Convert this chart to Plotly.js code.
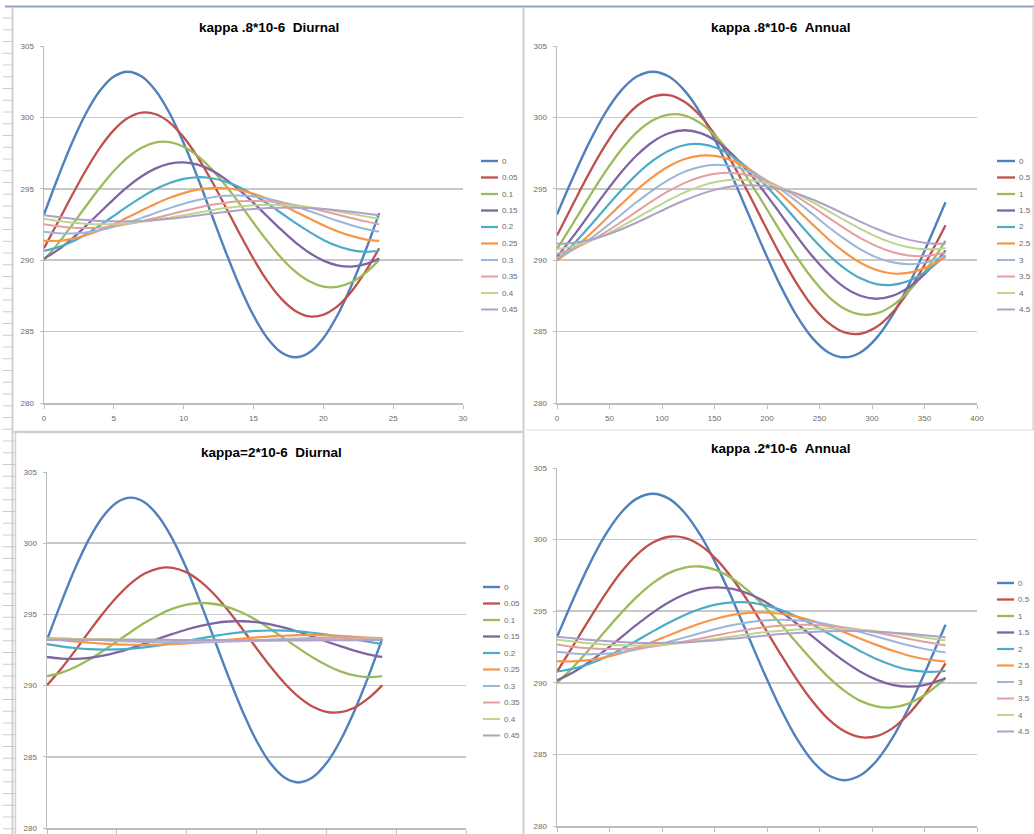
<!DOCTYPE html>
<html>
<head>
<meta charset="utf-8">
<script src="https://cdn.plot.ly/plotly-3.0.1.min.js"></script>
<style>html,body{margin:0;padding:0;background:#fff;}#chart{width:1034px;height:834px;}</style>
</head>
<body>
<div id="chart"></div>
<script>
// ---- data ----
const panelTitles = ['kappa .8*10-6\u00a0\u00a0Diurnal', 'kappa .8*10-6\u00a0\u00a0Annual', 'kappa=2*10-6\u00a0\u00a0Diurnal', 'kappa .2*10-6\u00a0\u00a0Annual'];
const diurnalNames = ['0', '0.05', '0.1', '0.15', '0.2', '0.25', '0.3', '0.35', '0.4', '0.45'];
const annualNames = ['0', '0.5', '1', '1.5', '2', '2.5', '3', '3.5', '4', '4.5'];
const diurnalX = [0, 1, 2, 3, 4, 5, 6, 7, 8, 9, 10, 11, 12, 13, 14, 15, 16, 17, 18, 19, 20, 21, 22, 23, 24];
const annualX = [0, 15.2, 30.4, 45.6, 60.8, 76.0, 91.3, 106.5, 121.7, 136.9, 152.1, 167.3, 182.5, 197.7, 212.9, 228.1, 243.3, 258.5, 273.8, 289.0, 304.2, 319.4, 334.6, 349.8, 365, 370];
const diurnalTicks = [0, 5, 10, 15, 20, 25, 30];
const annualTicks = [0, 50, 100, 150, 200, 250, 300, 350, 400];
const tempTicks = [280, 285, 290, 295, 300, 305];

const diurnalK08 = [
  [293.2, 295.79, 298.2, 300.27, 301.86, 302.86, 303.2, 302.86, 301.86, 300.27, 298.2, 295.79, 293.2, 290.61, 288.2, 286.13, 284.54, 283.54, 283.2, 283.54, 284.54, 286.13, 288.2, 290.61, 293.3],
  [290.84, 292.67, 294.53, 296.30, 297.87, 299.11, 299.95, 300.33, 300.22, 299.64, 298.61, 297.22, 295.56, 293.73, 291.87, 290.10, 288.53, 287.29, 286.45, 286.07, 286.18, 286.76, 287.79, 289.18, 290.84],
  [290.02, 291.16, 292.45, 293.78, 295.07, 296.24, 297.20, 297.88, 298.25, 298.27, 297.95, 297.31, 296.38, 295.24, 293.96, 292.62, 291.33, 290.16, 289.20, 288.52, 288.15, 288.13, 288.45, 289.09, 290.02],
  [290.11, 290.72, 291.50, 292.40, 293.34, 294.28, 295.15, 295.88, 296.43, 296.76, 296.85, 296.69, 296.29, 295.68, 294.90, 294.01, 293.06, 292.12, 291.25, 290.52, 289.97, 289.64, 289.55, 289.72, 290.11],
  [290.66, 290.90, 291.29, 291.82, 292.44, 293.11, 293.79, 294.42, 294.98, 295.41, 295.69, 295.81, 295.74, 295.50, 295.11, 294.58, 293.96, 293.29, 292.61, 291.98, 291.42, 290.99, 290.71, 290.59, 290.66],
  [291.35, 291.36, 291.49, 291.75, 292.10, 292.52, 293.00, 293.48, 293.95, 294.37, 294.70, 294.94, 295.05, 295.04, 294.91, 294.65, 294.30, 293.88, 293.40, 292.92, 292.45, 292.03, 291.70, 291.46, 291.35],
  [292.00, 291.89, 291.87, 291.94, 292.10, 292.34, 292.63, 292.96, 293.31, 293.65, 293.95, 294.21, 294.40, 294.51, 294.53, 294.46, 294.30, 294.07, 293.77, 293.44, 293.10, 292.76, 292.45, 292.19, 292.00],
  [292.52, 292.37, 292.28, 292.25, 292.28, 292.38, 292.53, 292.73, 292.96, 293.20, 293.45, 293.68, 293.88, 294.03, 294.12, 294.15, 294.12, 294.02, 293.87, 293.67, 293.44, 293.20, 292.95, 292.72, 292.52],
  [292.90, 292.75, 292.64, 292.56, 292.52, 292.53, 292.59, 292.69, 292.82, 292.98, 293.15, 293.33, 293.50, 293.65, 293.76, 293.84, 293.88, 293.87, 293.81, 293.71, 293.58, 293.42, 293.25, 293.07, 292.90],
  [293.14, 293.02, 292.91, 292.82, 292.75, 292.72, 292.72, 292.75, 292.81, 292.90, 293.01, 293.13, 293.26, 293.38, 293.49, 293.58, 293.65, 293.68, 293.68, 293.65, 293.59, 293.50, 293.39, 293.27, 293.14]
];
const annualK08 = [
  [293.2, 295.79, 298.2, 300.27, 301.86, 302.86, 303.2, 302.86, 301.86, 300.27, 298.2, 295.79, 293.2, 290.61, 288.2, 286.13, 284.54, 283.54, 283.2, 283.54, 284.54, 286.13, 288.2, 290.61, 293.2, 294.06],
  [291.73, 293.92, 296.06, 298.00, 299.62, 300.80, 301.46, 301.56, 301.08, 300.08, 298.60, 296.76, 294.67, 292.48, 290.34, 288.40, 286.78, 285.61, 284.94, 284.85, 285.32, 286.32, 287.80, 289.65, 291.73, 292.45],
  [290.78, 292.57, 294.40, 296.15, 297.70, 298.95, 299.80, 300.20, 300.13, 299.58, 298.60, 297.25, 295.63, 293.83, 292.00, 290.25, 288.70, 287.45, 286.60, 286.20, 286.27, 286.82, 287.80, 289.15, 290.78, 291.35],
  [290.23, 291.65, 293.17, 294.70, 296.13, 297.35, 298.30, 298.89, 299.10, 298.90, 298.32, 297.39, 296.17, 294.75, 293.23, 291.70, 290.27, 289.05, 288.10, 287.51, 287.30, 287.50, 288.08, 289.01, 290.23, 290.68],
  [290.00, 291.08, 292.31, 293.60, 294.86, 296.01, 296.97, 297.67, 298.07, 298.13, 297.86, 297.27, 296.40, 295.32, 294.09, 292.80, 291.54, 290.39, 289.43, 288.73, 288.33, 288.27, 288.54, 289.13, 290.00, 290.33],
  [290.00, 290.80, 291.75, 292.81, 293.89, 294.93, 295.84, 296.58, 297.09, 297.33, 297.29, 296.97, 296.40, 295.60, 294.65, 293.59, 292.51, 291.47, 290.56, 289.82, 289.31, 289.07, 289.11, 289.43, 290.00, 290.24],
  [290.17, 290.72, 291.43, 292.27, 293.17, 294.07, 294.91, 295.64, 296.20, 296.55, 296.68, 296.57, 296.23, 295.68, 294.97, 294.13, 293.23, 292.33, 291.49, 290.76, 290.20, 289.85, 289.72, 289.83, 290.17, 290.33],
  [290.45, 290.79, 291.30, 291.94, 292.66, 293.42, 294.17, 294.85, 295.42, 295.83, 296.07, 296.11, 295.95, 295.61, 295.10, 294.46, 293.74, 292.98, 292.23, 291.55, 290.99, 290.57, 290.33, 290.29, 290.45, 290.54],
  [290.79, 290.97, 291.31, 291.77, 292.34, 292.96, 293.60, 294.21, 294.75, 295.19, 295.49, 295.63, 295.61, 295.43, 295.09, 294.63, 294.06, 293.44, 292.80, 292.19, 291.65, 291.21, 290.91, 290.77, 290.79, 290.83],
  [291.15, 291.21, 291.41, 291.73, 292.15, 292.64, 293.17, 293.71, 294.20, 294.63, 294.96, 295.18, 295.25, 295.19, 294.99, 294.67, 294.25, 293.76, 293.23, 292.70, 292.20, 291.77, 291.44, 291.23, 291.15, 291.15]
];
const diurnalK2 = [
  [293.2, 295.79, 298.2, 300.27, 301.86, 302.86, 303.2, 302.86, 301.86, 300.27, 298.2, 295.79, 293.2, 290.61, 288.2, 286.13, 284.54, 283.54, 283.2, 283.54, 284.54, 286.13, 288.2, 290.61, 293.3],
  [290.02, 291.16, 292.44, 293.77, 295.06, 296.22, 297.18, 297.87, 298.24, 298.27, 297.95, 297.30, 296.38, 295.24, 293.96, 292.63, 291.34, 290.18, 289.22, 288.53, 288.16, 288.13, 288.45, 289.10, 290.02],
  [290.67, 290.90, 291.29, 291.81, 292.43, 293.10, 293.77, 294.41, 294.96, 295.40, 295.68, 295.80, 295.73, 295.50, 295.11, 294.59, 293.97, 293.30, 292.63, 291.99, 291.44, 291.00, 290.72, 290.60, 290.67],
  [292.01, 291.90, 291.88, 291.95, 292.10, 292.33, 292.62, 292.95, 293.30, 293.63, 293.94, 294.20, 294.39, 294.50, 294.52, 294.45, 294.30, 294.07, 293.78, 293.45, 293.10, 292.77, 292.46, 292.20, 292.01],
  [292.91, 292.76, 292.64, 292.56, 292.53, 292.54, 292.59, 292.69, 292.82, 292.98, 293.15, 293.32, 293.49, 293.64, 293.76, 293.84, 293.87, 293.86, 293.81, 293.71, 293.58, 293.43, 293.25, 293.08, 292.91],
  [293.28, 293.19, 293.10, 293.02, 292.95, 292.90, 292.87, 292.86, 292.87, 292.91, 292.97, 293.04, 293.12, 293.21, 293.30, 293.38, 293.45, 293.50, 293.54, 293.54, 293.53, 293.49, 293.43, 293.36, 293.28],
  [293.34, 293.31, 293.27, 293.22, 293.18, 293.13, 293.09, 293.06, 293.04, 293.03, 293.03, 293.04, 293.06, 293.10, 293.14, 293.18, 293.23, 293.27, 293.31, 293.34, 293.36, 293.37, 293.37, 293.36, 293.34],
  [293.29, 293.29, 293.28, 293.26, 293.25, 293.22, 293.20, 293.18, 293.16, 293.14, 293.12, 293.11, 293.11, 293.11, 293.12, 293.14, 293.16, 293.18, 293.20, 293.22, 293.24, 293.26, 293.28, 293.29, 293.29],
  [293.24, 293.24, 293.25, 293.25, 293.24, 293.24, 293.23, 293.22, 293.21, 293.20, 293.18, 293.17, 293.17, 293.16, 293.16, 293.16, 293.16, 293.16, 293.17, 293.18, 293.19, 293.20, 293.22, 293.23, 293.24],
  [293.21, 293.21, 293.22, 293.22, 293.22, 293.22, 293.22, 293.22, 293.22, 293.21, 293.21, 293.20, 293.20, 293.19, 293.18, 293.18, 293.18, 293.18, 293.18, 293.18, 293.18, 293.19, 293.19, 293.20, 293.21]
];
const annualK02 = [
  [293.2, 295.79, 298.2, 300.27, 301.86, 302.86, 303.2, 302.86, 301.86, 300.27, 298.2, 295.79, 293.2, 290.61, 288.2, 286.13, 284.54, 283.54, 283.2, 283.54, 284.54, 286.13, 288.2, 290.61, 293.2, 294.06],
  [290.77, 292.56, 294.39, 296.14, 297.70, 298.94, 299.79, 300.20, 300.12, 299.58, 298.60, 297.25, 295.63, 293.84, 292.01, 290.26, 288.71, 287.46, 286.61, 286.20, 286.28, 286.82, 287.80, 289.15, 290.77, 291.35],
  [290.00, 291.08, 292.30, 293.59, 294.85, 296.00, 296.96, 297.66, 298.05, 298.12, 297.85, 297.27, 296.40, 295.32, 294.10, 292.81, 291.55, 290.40, 289.44, 288.74, 288.35, 288.28, 288.55, 289.13, 290.00, 290.33],
  [290.18, 290.72, 291.43, 292.26, 293.16, 294.06, 294.90, 295.62, 296.18, 296.54, 296.67, 296.56, 296.22, 295.68, 294.97, 294.14, 293.24, 292.34, 291.50, 290.78, 290.22, 289.86, 289.73, 289.84, 290.18, 290.33],
  [290.79, 290.98, 291.31, 291.77, 292.33, 292.95, 293.59, 294.20, 294.74, 295.17, 295.48, 295.62, 295.61, 295.42, 295.09, 294.63, 294.07, 293.45, 292.81, 292.21, 291.66, 291.23, 290.92, 290.78, 290.79, 290.84],
  [291.52, 291.49, 291.58, 291.78, 292.07, 292.45, 292.87, 293.32, 293.76, 294.16, 294.49, 294.74, 294.88, 294.91, 294.82, 294.62, 294.33, 293.95, 293.53, 293.08, 292.65, 292.25, 291.91, 291.66, 291.52, 291.50],
  [292.17, 292.05, 292.00, 292.03, 292.14, 292.33, 292.57, 292.86, 293.17, 293.48, 293.78, 294.03, 294.23, 294.35, 294.40, 294.37, 294.26, 294.07, 293.83, 293.54, 293.23, 292.92, 292.62, 292.37, 292.17, 292.12],
  [292.68, 292.52, 292.41, 292.36, 292.36, 292.42, 292.54, 292.70, 292.89, 293.10, 293.32, 293.54, 293.73, 293.88, 293.99, 294.04, 294.04, 293.98, 293.86, 293.70, 293.51, 293.30, 293.08, 292.86, 292.68, 292.62],
  [293.01, 292.88, 292.76, 292.67, 292.62, 292.61, 292.64, 292.70, 292.80, 292.93, 293.08, 293.23, 293.39, 293.53, 293.64, 293.73, 293.78, 293.79, 293.76, 293.70, 293.60, 293.47, 293.32, 293.17, 293.01, 292.97],
  [293.22, 293.11, 293.00, 292.92, 292.85, 292.80, 292.78, 292.79, 292.83, 292.90, 292.98, 293.08, 293.19, 293.29, 293.40, 293.48, 293.55, 293.60, 293.62, 293.61, 293.57, 293.50, 293.42, 293.32, 293.22, 293.18]
];

// ---- styling ----
const seriesColors = ['#4F81BD', '#C0504D', '#9BBB59', '#8064A2', '#4BACC6', '#F79646', '#9DB5DB', '#E3A09E', '#BDD58F', '#B0A1CA'];
const seriesWidths = [2.4, 2.3, 2.3, 2.3, 2.2, 2.2, 2, 2, 2, 2];
const W = 1034, H = 834;
const px = v => v / W;
const py = v => 1 - v / H;
const tickFont = {family: 'Liberation Sans, Arial, sans-serif', size: 8, color: '#6b6b6b'};

const panels = [
  {vals: diurnalK08, x: diurnalX, names: diurnalNames, ticks: diurnalTicks, xr: [0, 30], xd: [44, 463], yd: [46, 403], labels: true, title: [269, 27], leg: [481, 498, 500, 161]},
  {vals: annualK08, x: annualX, names: annualNames, ticks: annualTicks, xr: [0, 400], xd: [557, 977], yd: [46, 403], labels: true, title: [781, 27], leg: [997, 1015, 1017, 161]},
  {vals: diurnalK2, x: diurnalX, names: diurnalNames, ticks: diurnalTicks, xr: [0, 30], xd: [47, 466], yd: [472, 828], labels: false, title: [271, 453], leg: [483, 500, 502, 587]},
  {vals: annualK02, x: annualX, names: annualNames, ticks: annualTicks, xr: [0, 400], xd: [557, 977], yd: [468, 826], labels: false, title: [781, 448], leg: [997, 1014, 1016, 583]}
];

const traces = [];
const layout = {
  width: W, height: H,
  margin: {l: 0, r: 0, t: 0, b: 0, pad: 0},
  paper_bgcolor: '#ffffff', plot_bgcolor: '#ffffff',
  showlegend: false,
  shapes: [], annotations: []
};

panels.forEach((p, pi) => {
  const n = pi + 1;
  const xa = 'x' + (n === 1 ? '' : n), ya = 'y' + (n === 1 ? '' : n);
  p.vals.forEach((ys, si) => {
    traces.push({
      type: 'scatter', mode: 'lines', x: p.x, y: ys, name: p.names[si],
      xaxis: xa, yaxis: ya,
      line: {color: seriesColors[si], width: seriesWidths[si], shape: 'spline', smoothing: 1},
      hoverinfo: 'skip'
    });
  });
  layout['xaxis' + (n === 1 ? '' : n)] = {
    domain: [px(p.xd[0]), px(p.xd[1])], range: p.xr, anchor: ya,
    tickvals: p.ticks, ticktext: p.ticks.map(String), showticklabels: p.labels,
    showgrid: false, zeroline: false, showline: true, linecolor: '#BDBDBD', linewidth: 1.5,
    ticks: 'outside', ticklen: 4, tickwidth: 1, tickcolor: '#BDBDBD', tickfont: tickFont,
    ticklabelstandoff: 3, fixedrange: true
  };
  layout['yaxis' + (n === 1 ? '' : n)] = {
    domain: [py(p.yd[1]), py(p.yd[0])], range: [280, 305], anchor: xa,
    tickvals: tempTicks, ticktext: tempTicks.map(String),
    showgrid: true, gridcolor: '#C8C8C8', gridwidth: 1.5, zeroline: false,
    showline: true, linecolor: '#BDBDBD', linewidth: 1.5,
    ticks: 'outside', ticklen: 3, tickwidth: 1, tickcolor: '#BDBDBD', tickfont: tickFont,
    ticklabelstandoff: 4, fixedrange: true
  };
  layout.annotations.push({
    xref: 'paper', yref: 'paper', x: px(p.title[0]), y: py(p.title[1]),
    xanchor: 'center', yanchor: 'middle', showarrow: false, text: panelTitles[pi],
    font: {family: 'Liberation Sans, Arial, sans-serif', size: 13.5, color: '#000', weight: 'bold'}
  });
  // legend built from series names and colours
  p.names.forEach((nm, si) => {
    const yy = p.leg[3] + si * 16.5;
    layout.shapes.push({type: 'line', xref: 'paper', yref: 'paper', x0: px(p.leg[0]), x1: px(p.leg[1]), y0: py(yy), y1: py(yy),
      line: {color: seriesColors[si], width: seriesWidths[si]}});
    layout.annotations.push({xref: 'paper', yref: 'paper', x: px(p.leg[2]), y: py(yy), xanchor: 'left', yanchor: 'middle',
      showarrow: false, text: nm, font: tickFont});
  });
});

// spreadsheet frame around the four charts
const frame = (x0, y0, x1, y1, color, width) => layout.shapes.push({type: 'line', xref: 'paper', yref: 'paper', layer: 'below',
  x0: px(x0), y0: py(y0), x1: px(x1), y1: py(y1), line: {color: color, width: width}});
frame(5, 6.5, 1034, 6.5, '#8FA3BC', 2);
frame(12.5, 7, 12.5, 834, '#D2D2D2', 2);
frame(15.5, 433, 15.5, 834, '#D2D2D2', 1.5);
frame(12.5, 432, 524, 432, '#D0D0D0', 2.5);
frame(523.5, 7, 523.5, 834, '#D0D0D0', 2);
frame(526, 430, 1034, 430, '#E0E0E0', 1);
frame(1033, 7, 1033, 430, '#D8D8D8', 1.5);
for (let yy = 18; yy < H; yy += 11.75) {
  frame(3, yy, yy > 432 ? 16 : 12, yy, '#CCCCCC', 1);
}

Plotly.newPlot('chart', traces, layout, {staticPlot: true, displayModeBar: false});
</script>
</body>
</html>
